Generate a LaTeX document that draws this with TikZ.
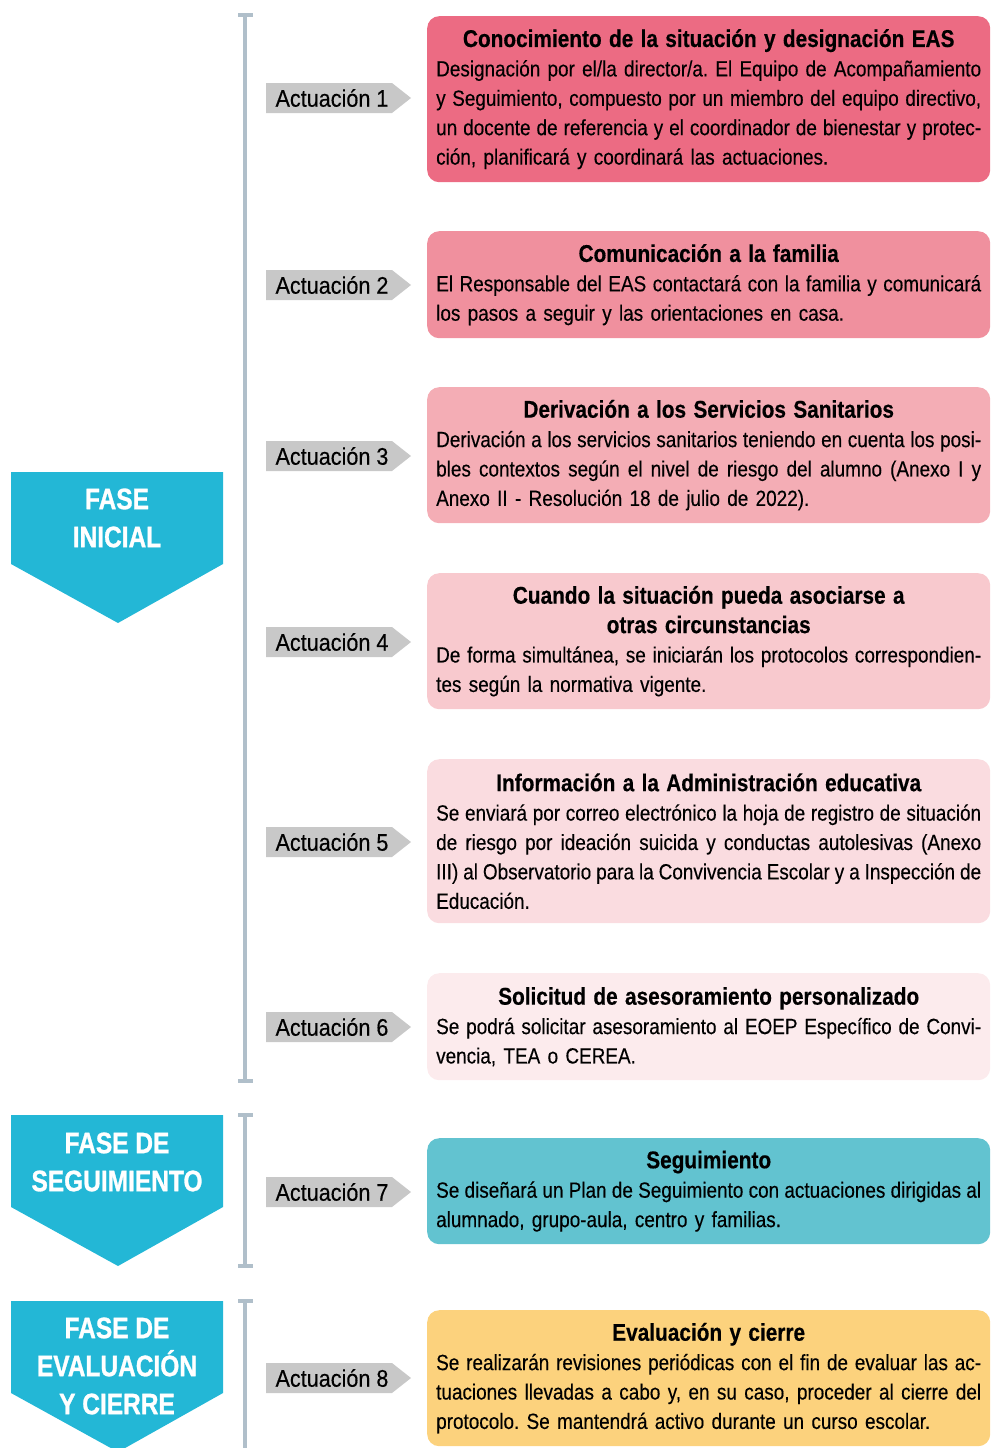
\documentclass[tikz,border=0pt]{standalone}
\usepackage{fontspec}
\setmainfont{Liberation Sans}[FakeStretch=0.86, UprightFeatures={FakeBold=0.3}, BoldFeatures={FakeBold=0.4}]
\newfontfamily\labfont{Liberation Sans}[FakeStretch=0.9, UprightFeatures={FakeBold=0.3}]
\newfontfamily\phasefont{Liberation Sans}[FakeStretch=0.83, BoldFeatures={FakeBold=1.0}]
\definecolor{phase}{HTML}{23B7D6}
\definecolor{barc}{HTML}{B0BFCA}
\definecolor{labc}{HTML}{C8C8C8}
\definecolor{cA}{HTML}{EC6B83}
\definecolor{cB}{HTML}{F0909E}
\definecolor{cC}{HTML}{F4ADB5}
\definecolor{cD}{HTML}{F8C9CE}
\definecolor{cE}{HTML}{FADCE0}
\definecolor{cF}{HTML}{FCEBED}
\definecolor{cG}{HTML}{62C3D0}
\definecolor{cH}{HTML}{FCD27D}
\newlength\tw
\setlength\tw{545pt}
\newcommand{\jl}[1]{\leavevmode\hbox to \tw{\spaceskip=0.24em plus 1fil minus 0.07em\xspaceskip=\spaceskip #1}\\}
\newcommand{\tl}[1]{\leavevmode\makebox[\tw][c]{\fontsize{24.2}{29.4}\selectfont\bfseries #1}\\}
\newcommand{\actlab}[3]{%
  \fill[labc] (266,#2-15) -- (392,#2-15) -- (411,#2) -- (392,#2+15) -- (266,#2+15) -- cycle;
  \node[labtext] (#1) at (332,#2) {Actuación #3};}
\tikzset{
  boxnode/.style={rounded corners=12pt, minimum width=563pt, text width=545pt,
    inner xsep=9pt, inner ysep=0pt, align=left, anchor=north west,
    font=\frenchspacing\fontsize{22}{29.4}\selectfont},
  labtext/.style={font=\labfont\fontsize{24}{28}\selectfont, inner sep=0pt, text=black},
  phasetext/.style={font=\phasefont\bfseries\fontsize{29.5}{38}\selectfont, text=white, align=center, inner sep=0pt},
  barline/.style={draw=barc, line width=4pt},
}
\begin{document}
\begin{tikzpicture}[x=1pt,y=-1pt]
\useasboundingbox (0,0) rectangle (991,1448);
\clip (0,0) rectangle (991,1448);
% timeline bars
\draw[barline] (245,15) -- (245,1081);
\draw[barline] (238,15) -- (253,15);
\draw[barline] (238,1081) -- (253,1081);
\draw[barline] (245,1115) -- (245,1266);
\draw[barline] (238,1115) -- (253,1115);
\draw[barline] (238,1266) -- (253,1266);
\draw[barline] (245,1301) -- (245,1460);
\draw[barline] (238,1301) -- (253,1301);
% phases
\fill[phase] (11,472) -- (223,472) -- (223,564) -- (118,623) -- (11,564) -- cycle;
\node[phasetext] (p1) at (117,518) {FASE\\INICIAL};
\fill[phase] (11,1115) -- (223,1115) -- (223,1207) -- (118,1266) -- (11,1207) -- cycle;
\node[phasetext] (p2) at (117,1162) {FASE DE\\SEGUIMIENTO};
\fill[phase] (11,1301) -- (223,1301) -- (223,1393) -- (118,1452) -- (11,1393) -- cycle;
\node[phasetext] (p3) at (117,1366) {FASE DE\\EVALUACIÓN\\Y CIERRE};
% labels
\actlab{a1}{98}{1}
\actlab{a2}{285}{2}
\actlab{a3}{456}{3}
\actlab{a4}{642}{4}
\actlab{a5}{842}{5}
\actlab{a6}{1027}{6}
\actlab{a7}{1192}{7}
\actlab{a8}{1378}{8}
% boxes
\node[boxnode, fill=cA, minimum height=166pt] (b1) at (427,16) {%
\tl{Conocimiento de la situación y designación EAS}
\jl{Designación por el/la director/a. El Equipo de Acompañamiento}
\jl{y Seguimiento, compuesto por un miembro del equipo directivo,}
\jl{un docente de referencia y el coordinador de bienestar y protec-}
ción, planificará y coordinará las actuaciones.};
\node[boxnode, fill=cB, minimum height=107pt] (b2) at (427,231) {%
\tl{Comunicación a la familia}
\jl{El Responsable del EAS contactará con la familia y comunicará}
los pasos a seguir y las orientaciones en casa.};
\node[boxnode, fill=cC, minimum height=136pt] (b3) at (427,387) {%
\tl{Derivación a los Servicios Sanitarios}
\jl{Derivación a los servicios sanitarios teniendo en cuenta los posi-}
\jl{bles contextos según el nivel de riesgo del alumno (Anexo I y}
Anexo II - Resolución 18 de julio de 2022).};
\node[boxnode, fill=cD, minimum height=136pt] (b4) at (427,573) {%
\tl{Cuando la situación pueda asociarse a}
\tl{otras circunstancias}
\jl{De forma simultánea, se iniciarán los protocolos correspondien-}
tes según la normativa vigente.};
\node[boxnode, fill=cE, minimum height=164pt] (b5) at (427,759) {%
\tl{Información a la Administración educativa}
\jl{Se enviará por correo electrónico la hoja de registro de situación}
\jl{de riesgo por ideación suicida y conductas autolesivas (Anexo}
\jl{III) al Observatorio para la Convivencia Escolar y a Inspección de}
Educación.};
\node[boxnode, fill=cF, minimum height=107pt] (b6) at (427,973) {%
\tl{Solicitud de asesoramiento personalizado}
\jl{Se podrá solicitar asesoramiento al EOEP Específico de Convi-}
vencia, TEA o CEREA.};
\node[boxnode, fill=cG, minimum height=106pt] (b7) at (427,1138) {%
\tl{Seguimiento}
\jl{Se diseñará un Plan de Seguimiento con actuaciones dirigidas al}
alumnado, grupo-aula, centro y familias.};
\node[boxnode, fill=cH, minimum height=136pt] (b8) at (427,1310) {%
\tl{Evaluación y cierre}
\jl{Se realizarán revisiones periódicas con el fin de evaluar las ac-}
\jl{tuaciones llevadas a cabo y, en su caso, proceder al cierre del}
protocolo. Se mantendrá activo durante un curso escolar.};
\end{tikzpicture}
\end{document}
